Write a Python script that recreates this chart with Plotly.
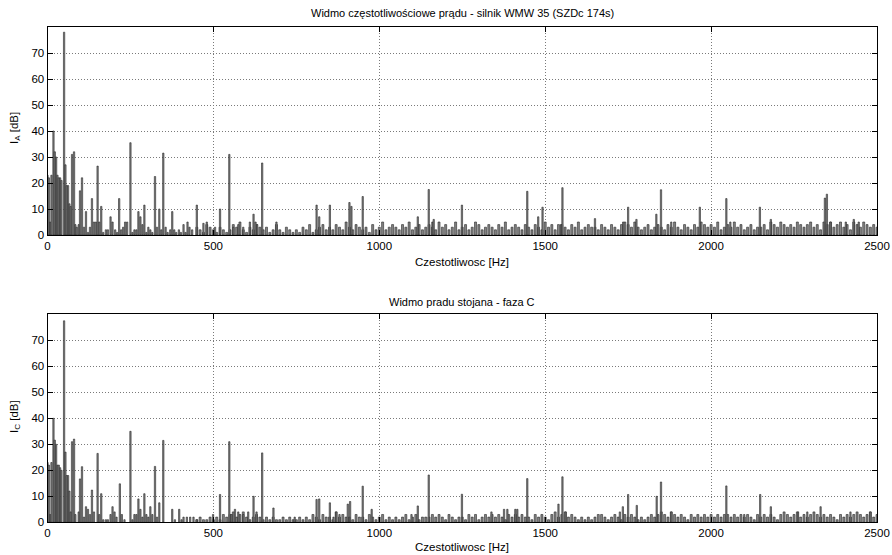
import plotly.graph_objects as go

# ---------------- data ----------------
# Phase A: low-frequency region and distinct peaks (Hz, dB)
a_peak_freq = [0, 4, 8, 12, 18, 22, 26, 30, 34, 38, 42, 50, 54, 58, 62, 66, 70, 74, 80, 84, 88, 94,
               98, 104, 110, 116, 122, 128, 134, 140, 146, 151, 156, 162, 168, 176, 182, 190, 196,
               204, 210, 216, 222, 228, 234, 240, 250, 256, 262, 268, 274, 280, 286, 292, 298, 304,
               310, 316, 324, 330, 337, 343, 349, 356, 362, 370, 376, 382, 388, 396, 402, 410, 416,
               422, 428, 436, 450, 470, 480, 505, 520, 548, 560, 575, 590, 610, 621, 627, 632, 647,
               690, 811, 819, 851, 910, 916, 950, 1116, 1149, 1160, 1164, 1249, 1446, 1479, 1492,
               1548, 1552, 1650, 1735, 1750, 1775, 1835, 1849, 1880, 1966, 2046, 2058, 2147, 2180,
               2343, 2349, 2360, 2406, 2430, 2445]
a_peak_db = [23, 22, 5, 23, 40, 32, 30, 23, 22, 22, 21, 78, 27, 19, 19, 12, 11, 31, 32, 4, 3, 4,
             17, 22, 3, 9, 1, 3, 14, 5, 5, 26.5, 5, 11, 1, 2, 2, 7, 5,
             2, 1, 14, 2, 3, 5, 5, 35.5, 1, 2, 2, 9, 7, 4, 11.5, 1, 3,
             2, 1, 22.5, 3, 10, 2, 31.5, 3, 1, 2, 9, 2, 1, 2, 1, 4, 1,
             5, 3, 2, 11.5, 4.5, 5, 3, 10, 31, 3, 4, 3, 5, 8, 5, 4, 27.7,
             5, 11.5, 7, 11.5, 12.5, 11, 14.8, 7, 17.5, 5, 6, 11.5, 16.8, 7, 10.7,
             4, 18.2, 6.3, 5, 10.7, 6, 8, 17.4, 5, 10.7, 14, 5, 10.7, 6,
             14.2, 15.7, 5, 5, 6, 5]

# Phase A: background spectrum, 450..2500 Hz every 10 Hz
a_noise_start = 450
a_noise_db = [3, 2, 1, 4, 3, 2, 1, 3, 2, 1,
              2, 4, 3, 5, 2, 1, 3, 2, 4, 3,
              2, 3, 1, 2, 4, 2, 1, 3, 2, 1,
              2, 1, 3, 2, 4, 1, 2, 3, 4, 2,
              3, 2, 4, 3, 2, 5, 3, 2, 4, 3,
              2, 3, 1, 4, 2, 3, 5, 2, 3, 4,
              3, 2, 4, 3, 5, 2, 3, 4, 2, 3,
              4, 3, 2, 5, 3, 4, 2, 3, 5, 2,
              3, 4, 2, 3, 5, 4, 2, 3, 4, 3,
              2, 4, 3, 5, 2, 3, 4, 3, 2, 4,
              3, 2, 4, 3, 2, 5, 3, 4, 2, 4,
              4, 3, 2, 4, 3, 5, 2, 3, 4, 3,
              3, 2, 4, 3, 2, 4, 3, 2, 4, 5,
              4, 3, 5, 3, 2, 3, 4, 2, 3, 4,
              3, 2, 4, 3, 5, 3, 2, 4, 3, 2,
              4, 3, 5, 4, 3, 4, 3, 5, 2, 3,
              4, 3, 5, 3, 4, 2, 3, 4, 2, 3,
              3, 4, 2, 5, 4, 3, 5, 4, 3, 4,
              3, 5, 4, 3, 4, 5, 3, 4, 2, 5,
              4, 5, 3, 4, 5, 3, 4, 2, 5, 4,
              3, 5, 4, 3, 4, 3]

# Phase C: low-frequency region and distinct peaks (Hz, dB)
c_peak_freq = [0, 4, 8, 12, 18, 22, 26, 30, 34, 38, 42, 50, 54, 58, 62, 66, 70, 74, 80, 84, 94,
               98, 104, 110, 116, 122, 128, 134, 140, 151, 156, 162, 168, 176, 182, 190, 196, 202,
               208, 218, 224, 232, 250, 256, 262, 268, 274, 280, 286, 292, 298, 304, 310, 316, 324,
               330, 337, 349, 376, 384, 397, 404, 410, 420, 430, 440,
               450, 499, 520, 548, 555, 565, 575, 590, 605, 621, 630, 647, 681, 745, 811, 819, 851,
               862, 870, 880, 905, 912, 950, 977, 1097, 1116, 1149, 1249, 1338, 1376, 1386, 1410,
               1416, 1446, 1540, 1552, 1562, 1725, 1734, 1750, 1776, 1836, 1849, 1880, 2046, 2100,
               2148, 2180, 2262, 2290, 2330, 2420, 2480]
c_peak_db = [23, 22, 3, 23, 40, 31.6, 30, 22, 22, 21, 20, 77.5, 27, 18, 18, 12, 4, 31, 32, 3, 4,
             16.7, 21.4, 2, 6, 5, 3, 12.4, 4, 26.5, 3, 11, 1, 1, 1, 3, 6, 4,
             2, 14.8, 3, 1, 35, 1, 3, 3, 9, 5, 2, 11, 3, 2, 6, 3, 21.5,
             2, 7.5, 31.5, 5, 1, 5, 1, 2, 2, 2, 2,
             1, 3, 10.7, 31, 3, 5, 4, 3, 4, 10, 4, 26.7, 5.5, 2, 8.8, 9, 7.5,
             2, 4, 3, 7, 8, 13.9, 5, 3, 6.3, 18.2, 10.8, 4, 5, 5, 5,
             5, 16.8, 7, 17.5, 4, 4, 6, 10.7, 6.5, 10, 15.5, 4, 14, 3,
             10.7, 6, 4, 4, 6, 4, 4]

# Phase C: background spectrum, 450..2500 Hz every 10 Hz
c_noise_start = 450
c_noise_db = [1, 2, 1, 1, 2, 1, 2, 1, 3, 2,
              3, 4, 2, 3, 4, 2, 1, 2, 3, 2,
              1, 2, 1, 2, 1, 1, 2, 1, 2, 1,
              1, 2, 1, 2, 1, 3, 2, 1, 3, 2,
              2, 1, 4, 2, 3, 2, 2, 1, 3, 2,
              2, 1, 3, 2, 1, 2, 3, 1, 2, 1,
              2, 1, 2, 3, 1, 2, 3, 1, 2, 2,
              2, 3, 2, 3, 2, 1, 3, 2, 1, 2,
              2, 1, 3, 2, 3, 1, 2, 3, 2, 3,
              2, 3, 2, 1, 3, 2, 3, 2, 3, 2,
              2, 1, 3, 2, 3, 2, 1, 3, 4, 2,
              3, 4, 2, 3, 2, 1, 2, 1, 2, 1,
              2, 3, 3, 2, 1, 2, 3, 2, 1, 3,
              2, 3, 2, 1, 2, 1, 2, 3, 2, 3,
              4, 3, 2, 4, 3, 2, 3, 2, 1, 3,
              2, 3, 2, 3, 2, 3, 2, 3, 2, 3,
              3, 2, 3, 2, 3, 2, 3, 2, 1, 3,
              2, 3, 2, 3, 2, 1, 3, 4, 3, 2,
              3, 4, 2, 3, 2, 3, 4, 3, 2, 3,
              2, 3, 2, 1, 3, 2, 3, 2, 3, 4,
              3, 2, 3, 4, 2, 3]

y_ticks = [0, 10, 20, 30, 40, 50, 60, 70]
x_ticks = [0, 500, 1000, 1500, 2000, 2500]
noise_step = 10

# ---------------- figure ----------------
W, H = 892, 555


def px(xr):
    return xr / W


def py(yr):
    return 1 - yr / H


fig = go.Figure()

bar_fill = "#858585"
bar_edge = "#262626"


def add_spectrum(noise_start, noise_db, peak_f, peak_db, xa, ya):
    nf = [noise_start + noise_step * i for i in range(len(noise_db))]
    fig.add_trace(go.Bar(x=nf, y=noise_db, width=6, xaxis=xa, yaxis=ya,
                         marker=dict(color=bar_fill, line=dict(color=bar_edge, width=0.6)),
                         showlegend=False, hoverinfo="skip"))
    fig.add_trace(go.Bar(x=peak_f, y=peak_db, width=4, xaxis=xa, yaxis=ya,
                         marker=dict(color=bar_fill, line=dict(color=bar_edge, width=0.6)),
                         showlegend=False, hoverinfo="skip"))


add_spectrum(a_noise_start, a_noise_db, a_peak_freq, a_peak_db, "x", "y")
add_spectrum(c_noise_start, c_noise_db, c_peak_freq, c_peak_db, "x2", "y2")

xdom = [px(47.5), px(877.0)]
top_dom = [py(235.0), py(27.0)]
bot_dom = [py(522.3), py(314.3)]

tick_font = dict(family="Liberation Sans, Arial, sans-serif", size=11.5, color="black")
axis_common = dict(showline=True, linecolor="black", linewidth=1, mirror="ticks",
                   ticks="inside", ticklen=5, tickcolor="black", tickfont=tick_font,
                   showgrid=True, gridcolor="#7a7a7a", griddash="1px,2px", gridwidth=1,
                   zeroline=False, automargin=False, ticklabeloverflow="allow")

fig.update_layout(
    width=W, height=H,
    margin=dict(l=0, r=0, t=0, b=0, autoexpand=False),
    paper_bgcolor="white", plot_bgcolor="white",
    barmode="overlay", bargap=0,
    font=tick_font,
    hovermode=False,
    xaxis=dict(domain=xdom, range=[0, 2500], tickvals=x_ticks, anchor="y", **axis_common),
    yaxis=dict(domain=top_dom, range=[0, 80], tickvals=y_ticks, anchor="x", **axis_common),
    xaxis2=dict(domain=xdom, range=[0, 2500], tickvals=x_ticks, anchor="y2", **axis_common),
    yaxis2=dict(domain=bot_dom, range=[0, 80], tickvals=y_ticks, anchor="x2", **axis_common),
)

title_font = dict(family="Liberation Sans, Arial, sans-serif", size=11, color="black")
label_font = dict(family="Liberation Sans, Arial, sans-serif", size=11.5, color="black")
annots = [
    dict(text="Widmo częstotliwościowe prądu - silnik WMW 35 (SZDc 174s)", x=462, y=13, f=title_font),
    dict(text="Czestotliwosc [Hz]", x=462, y=262, f=label_font),
    dict(text="Widmo pradu stojana - faza C", x=462, y=302, f=title_font),
    dict(text="Czestotliwosc [Hz]", x=462, y=547, f=label_font),
]
for a in annots:
    fig.add_annotation(xref="paper", yref="paper", x=px(a["x"]), y=py(a["y"]), text=a["text"],
                       showarrow=False, xanchor="center", yanchor="middle", font=a["f"])
fig.add_annotation(xref="paper", yref="paper", x=px(15), y=py(128), text="I<sub>A</sub> [dB]",
                   textangle=-90, showarrow=False, xanchor="center", yanchor="middle", font=label_font)
fig.add_annotation(xref="paper", yref="paper", x=px(15), y=py(417), text="I<sub>C</sub> [dB]",
                   textangle=-90, showarrow=False, xanchor="center", yanchor="middle", font=label_font)

# remove the default page margin so the 892x555 figure fills the window exactly
fig.write_html("out.html",
               config={"displayModeBar": False, "staticPlot": True},
               post_script="document.body.style.margin='0';document.body.style.overflow='hidden';")
